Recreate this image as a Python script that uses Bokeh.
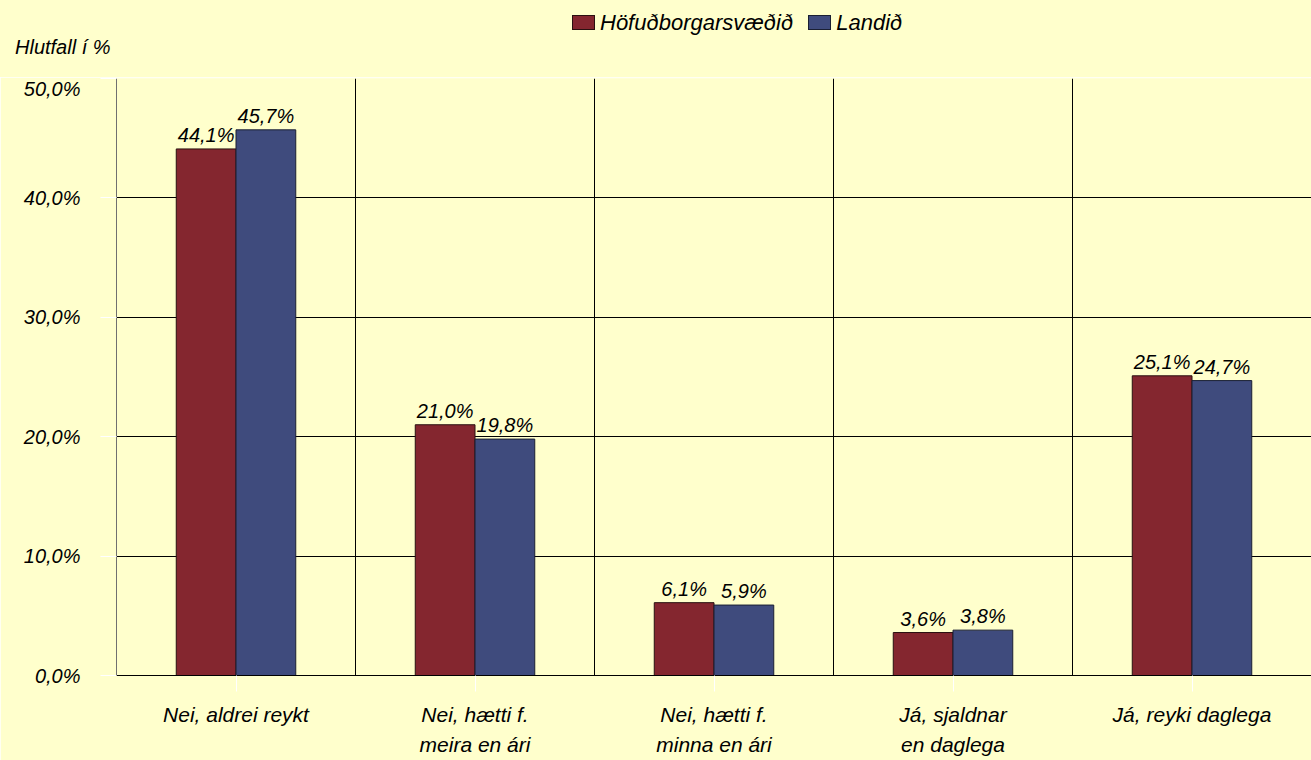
from bokeh.plotting import figure
from bokeh.layouts import column
from bokeh.models import ColumnDataSource, FixedTicker, Div
from bokeh.core.properties import value
from bokeh.embed import file_html
from bokeh.resources import INLINE

categories = ["Nei, aldrei reykt", "Nei, hætti f.\nmeira en ári", "Nei, hætti f.\nminna en ári",
              "Já, sjaldnar\nen daglega", "Já, reyki daglega"]
series_names = ["Höfuðborgarsvæðið", "Landið"]
hofud = [44.1, 21.0, 6.1, 3.6, 25.1]
landid = [45.7, 19.8, 5.9, 3.8, 24.7]
y_ticks = [0, 10, 20, 30, 40, 50]
y_labels = ["0,0%", "10,0%", "20,0%", "30,0%", "40,0%", "50,0%"]
y_title = "Hlutfall í %"

BG = "#FFFFCC"
RED = "#84262F"
BLUE = "#3F4B7D"
RED_LINE = "#2a1010"
BLUE_LINE = "#1a1f33"
FONT = "Liberation Sans"
FS = "20px"

W = 1311
HEAD_H = 77
MAIN_H = 760 - HEAD_H

# ---------- header: legend and y-axis title (HTML text) ----------
def swatch(color, line):
    return (f'<span style="display:inline-block;width:23px;height:15px;background:{color};'
            f'border:1px solid {line};"></span>')

legend_html = (
    f'<div style="position:absolute;left:572px;top:14px;display:flex;align-items:center;'
    f'height:17px;font-size:22px;line-height:17px;">'
    f'{swatch(RED, RED_LINE)}<span style="margin-left:5px;margin-right:15px;">{series_names[0]}</span>'
    f'{swatch(BLUE, BLUE_LINE)}<span style="margin-left:5px;">{series_names[1]}</span></div>'
)
title_html = (f'<div style="position:absolute;left:15px;top:37px;font-size:20px;line-height:20px;">'
              f'{y_title}</div>')
head = Div(text=(f'<div style="position:relative;width:{W}px;height:{HEAD_H}px;background:{BG};'
                 f'font-family:\'{FONT}\';font-style:italic;color:#000000;">'
                 f'{legend_html}{title_html}</div>'),
           width=W, height=HEAD_H, margin=0,
           styles={"background-color": BG})

# ---------- main chart ----------
p = figure(width=W, height=MAIN_H, output_backend="svg", toolbar_location=None,
           x_range=(0, 5), y_range=(0, 50), margin=0,
           min_border_left=116, min_border_right=0, min_border_top=1, min_border_bottom=85,
           background_fill_color=BG, border_fill_color=BG, outline_line_color=None)

centers = [i + 0.5 for i in range(len(categories))]
bw = 0.25
src_r = ColumnDataSource(dict(x=[c - bw / 2 for c in centers], top=hofud,
                              txt=[f"{v:.1f}%".replace(".", ",") for v in hofud]))
src_b = ColumnDataSource(dict(x=[c + bw / 2 for c in centers], top=landid,
                              txt=[f"{v:.1f}%".replace(".", ",") for v in landid]))

p.vbar(x="x", top="top", width=bw, source=src_r, fill_color=RED, line_color=RED_LINE, line_width=1)
p.vbar(x="x", top="top", width=bw, source=src_b, fill_color=BLUE, line_color=BLUE_LINE, line_width=1)

for s in (src_r, src_b):
    p.text(x="x", y="top", text="txt", source=s, text_align="center", text_baseline="alphabetic",
           y_offset=-14, text_font=value(FONT), text_font_style="italic",
           text_font_size=FS, text_color="#000000")

# x axis with category labels
p.xaxis.ticker = FixedTicker(ticks=centers)
p.xaxis.major_label_overrides = {c: lab for c, lab in zip(centers, categories)}
p.xaxis.major_label_text_font = FONT
p.xaxis.major_label_text_font_style = "italic"
p.xaxis.major_label_text_font_size = "21px"
p.xaxis.major_label_text_color = "#000000"
p.xaxis.major_label_text_line_height = 1.33
p.xaxis.major_label_standoff = 11
p.xaxis.major_tick_out = 16
p.xaxis.major_tick_in = 0
p.xaxis.major_tick_line_color = "white"
p.xaxis.minor_tick_line_color = None
p.xaxis.axis_line_color = "#000000"

p.yaxis.ticker = FixedTicker(ticks=y_ticks)
p.yaxis.major_label_overrides = {t: lab for t, lab in zip(y_ticks, y_labels)}
p.yaxis.major_label_text_font = FONT
p.yaxis.major_label_text_font_style = "italic"
p.yaxis.major_label_text_font_size = FS
p.yaxis.major_label_text_color = "#000000"
p.yaxis.major_label_standoff = 20
p.yaxis.major_tick_out = 16
p.yaxis.major_tick_in = 0
p.yaxis.major_tick_line_color = "white"
p.yaxis.minor_tick_line_color = None
p.yaxis.axis_line_color = "#707070"

# grids
p.ygrid.ticker = FixedTicker(ticks=y_ticks)
p.ygrid.grid_line_color = "#000000"
p.ygrid.grid_line_width = 1
p.xgrid.ticker = FixedTicker(ticks=[1, 2, 3, 4, 5])
p.xgrid.grid_line_color = "#000000"
p.xgrid.grid_line_width = 1

layout = column(head, p, spacing=0, margin=0)
open("out.html", "w").write(file_html(layout, INLINE))
